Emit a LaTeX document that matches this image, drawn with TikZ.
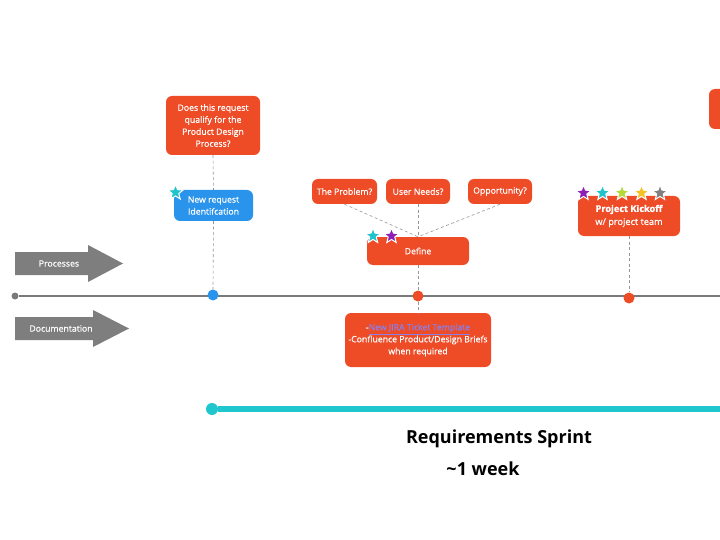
\documentclass[tikz,border=0pt]{standalone}
\usepackage{fontspec}
\setmainfont{Open Sans}
\newfontfamily\semifont[FakeBold=0.6]{Open Sans}
\newfontfamily\kickfont[BoldFeatures={FakeBold=1.2}]{Open Sans}
\usetikzlibrary{shapes.geometric}
\definecolor{boxred}{HTML}{EE4B27}
\definecolor{boxblue}{HTML}{2A93EC}
\definecolor{sprintteal}{HTML}{20C6CE}
\definecolor{arrowgray}{HTML}{7E7E7E}
\definecolor{linegray}{HTML}{7A7A7A}
\definecolor{linkblue}{HTML}{8A80E8}
\definecolor{starcyan}{HTML}{1EC3CC}
\definecolor{starpurple}{HTML}{8E1FB5}
\definecolor{starlime}{HTML}{B5D93A}
\definecolor{stargold}{HTML}{F5C125}
\definecolor{stargray}{HTML}{808080}

\begin{document}
\begin{tikzpicture}[x=1pt,y=-1pt]
\tikzstyle{every node}=[font=\semifont\fontsize{8.7}{12}\selectfont]
\tikzstyle{redbox}=[fill=boxred, text=white, rounded corners=6pt, align=center, inner sep=0pt]
\tikzstyle{bluebox}=[fill=boxblue, text=white, rounded corners=6pt, align=center, inner sep=0pt]
\tikzstyle{conn}=[draw=linegray!80, dash pattern=on 3pt off 2.5pt, line width=0.6pt]
\tikzstyle{dot}=[circle, inner sep=0pt, minimum size=11pt]
\tikzstyle{badge}=[star, star points=5, star point ratio=2.3, draw=white, line width=1pt, inner sep=0pt, minimum size=16pt]
\tikzstyle{sprinttext}=[font=\bfseries\fontsize{18}{21}\selectfont]
\useasboundingbox (0,0) rectangle (720,540);

% Draw the process and documentation arrows
\fill[arrowgray] (15,252) -- (88,252) -- (88,245) -- (123,263.5) -- (88,282) -- (88,275) -- (15,275) -- cycle;
\node[text=white] (processes) at (59,263.5) {Processes};
\fill[arrowgray] (15,317) -- (93,317) -- (93,310) -- (129,328.5) -- (93,347) -- (93,340) -- (15,340) -- cycle;
\node[text=white] (documentation) at (61,328.5) {Documentation};

% Draw the timeline
\node[dot, fill=linegray, minimum size=7pt] (start) at (15,296) {};
\coordinate (lineend) at (720,296);
\draw[linegray, line width=1.4pt] (start) -- (lineend);

% Draw the request boxes
\node[redbox, minimum width=94pt, minimum height=59pt] (qualify) at (213,125.5)
  {Does this request\\qualify for the\\Product Design\\Process?};
\node[bluebox, minimum width=79pt, minimum height=31pt] (newreq) at (213.5,205.5)
  {New request\\Identifcation};
\node[dot, fill=boxblue] (reqdot) at (213,295) {};
\draw[conn] (qualify.south) -- (newreq.north);
\draw[conn] (newreq.south) -- (reqdot.north);
\node[badge, fill=starcyan] (reqstar) at (175.5,192.5) {};

% Draw the define boxes
\node[redbox, minimum width=65pt, minimum height=25pt] (problem) at (344.5,191.5) {The Problem?};
\node[redbox, minimum width=64pt, minimum height=25pt] (needs) at (418,191.5) {User Needs?};
\node[redbox, minimum width=64pt, minimum height=25pt] (opportunity) at (500,191.5) {Opportunity?};
\node[redbox, minimum width=102pt, minimum height=28pt] (define) at (418,251) {Define};
\draw[conn] (problem.south) -- (define.north);
\draw[conn] (needs.south) -- (define.north);
\draw[conn] (opportunity.south) -- (define.north);
\node[badge, fill=starcyan] (definestara) at (373,236) {};
\node[badge, fill=starpurple] (definestarb) at (391.5,236) {};
\node[dot, fill=boxred] (definedot) at (418,296) {};
\node[redbox, minimum width=146pt, minimum height=54pt] (docs) at (418,340)
  {-\textcolor{linkblue}{\underline{New JIRA Ticket Template}}\\-Confluence Product/Design Briefs\\when required};
\draw[conn] (define.south) -- (definedot.north);
\draw[conn] (definedot.south) -- (docs.north);

% Draw the kickoff box
\node[redbox, minimum width=102pt, minimum height=40pt, font=\semifont\fontsize{9.2}{13}\selectfont] (kickoff) at (629,216)
  {{\kickfont\bfseries Project Kickoff}\\w/ project team};
\node[dot, fill=boxred] (kickdot) at (629,298) {};
\draw[conn] (kickoff.south) -- (kickdot.north);
\node[badge, fill=starpurple] (kickstara) at (583.5,193) {};
\node[badge, fill=starcyan] (kickstarb) at (602.5,193) {};
\node[badge, fill=starlime] (kickstarc) at (622,193) {};
\node[badge, fill=stargold] (kickstard) at (641.5,193) {};
\node[badge, fill=stargray] (kickstare) at (660,193) {};

% Draw the next box at the edge
\fill[boxred, rounded corners=6pt] (709,89) rectangle (740,129);

% Draw the sprint bar
\node[dot, fill=sprintteal, minimum size=12pt] (sprintstart) at (212,409) {};
\coordinate (sprintend) at (720,409);
\draw[sprintteal, line width=6.5pt] (sprintstart) -- (sprintend);
\node[sprinttext] (sprintname) at (499,439) {Requirements Sprint};
\node[sprinttext] (sprintlength) at (483,469) {\textasciitilde1 week};

\end{tikzpicture}
\end{document}
